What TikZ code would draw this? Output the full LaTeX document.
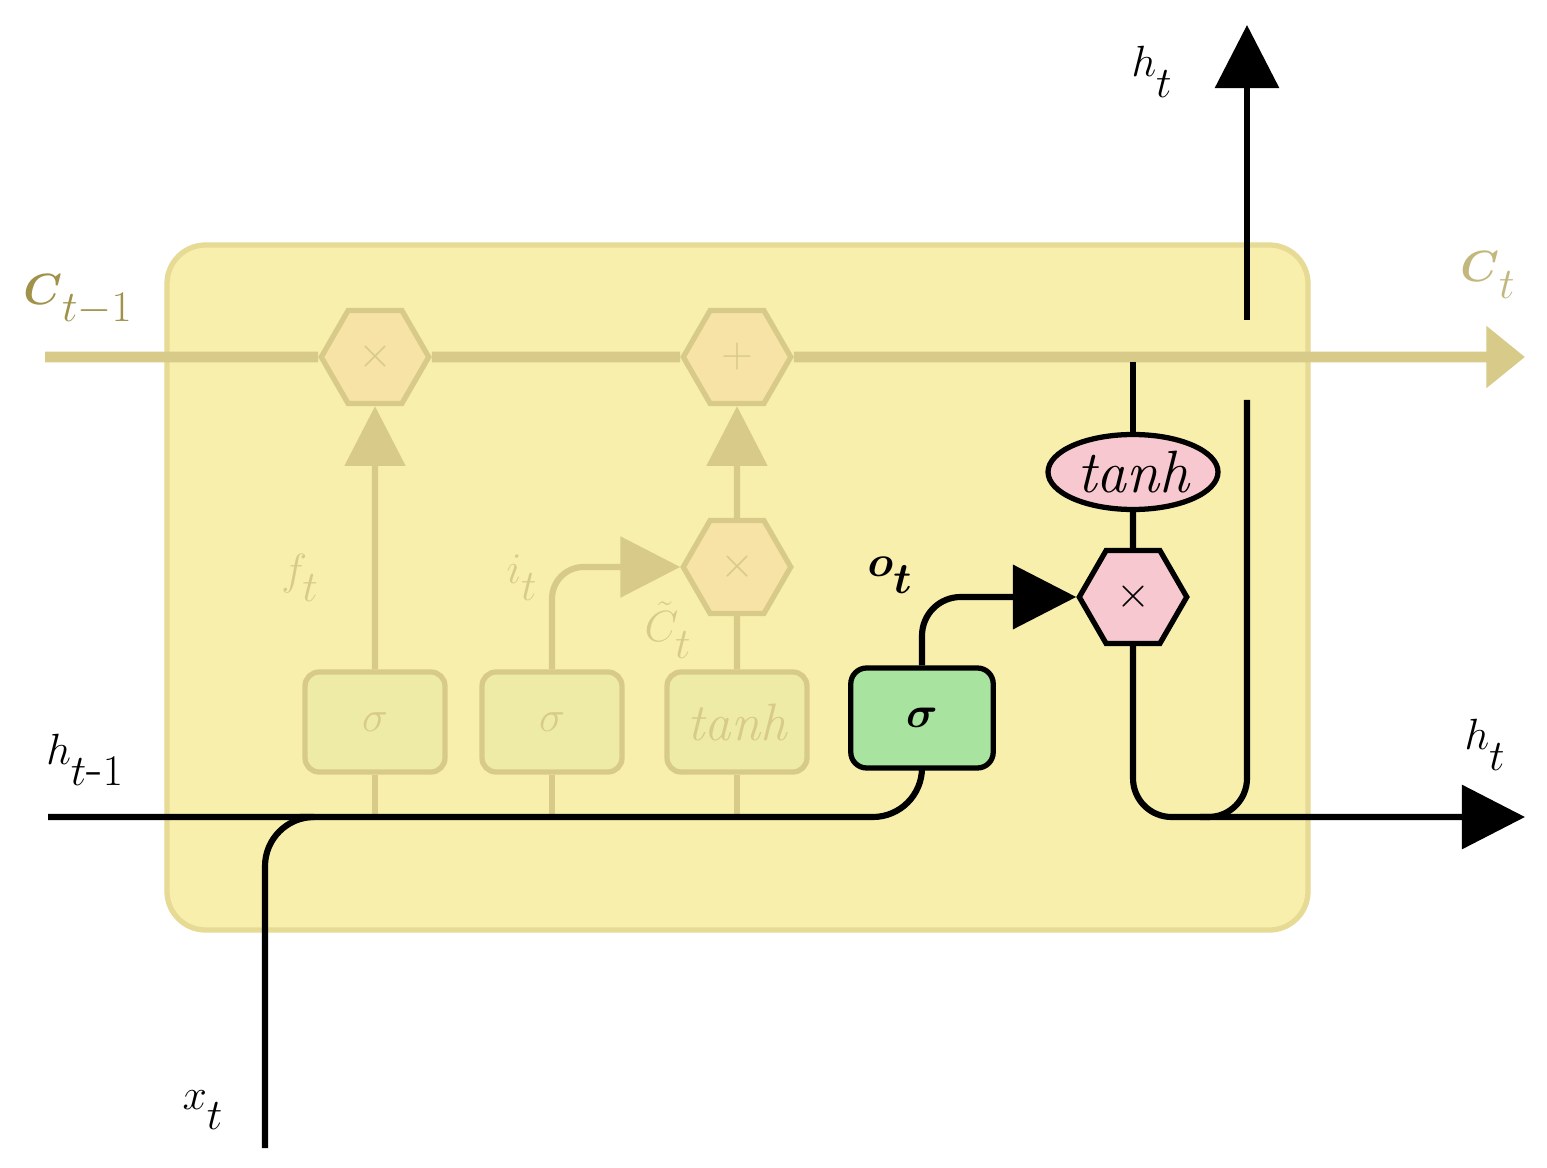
\documentclass[tikz,border=0pt]{standalone}
\usepackage{amsmath}
\usetikzlibrary{shapes.geometric,arrows.meta}
\definecolor{bg}{HTML}{F8EFAD}
\definecolor{bgb}{HTML}{E6DA95}
\definecolor{fl}{HTML}{D8CB8A}
\definecolor{fhex}{HTML}{F7E3A6}
\definecolor{fbox}{HTML}{EEEBA6}
\definecolor{olive}{HTML}{A0924A}
\definecolor{gr}{HTML}{A8E4A0}
\definecolor{pk}{HTML}{F8C8D0}
\newcommand{\bigtxt}[1]{\fontsize{44}{48}\selectfont #1}
\begin{document}
\begin{tikzpicture}[x=0.02cm,y=-0.02cm,
  faded/.style={draw=fl,line width=3.5pt},
  fhexs/.style={regular polygon,regular polygon sides=6,minimum size=2.15cm,draw=fl,fill=fhex,line width=3pt,inner sep=0pt,text=fl},
  fboxs/.style={rounded corners=8pt,minimum width=2.8cm,minimum height=2cm,draw=fl,fill=fbox,line width=3pt,text=fl},
  blk/.style={draw=black,line width=3.5pt},
  btip/.style={-{Triangle[length=36pt,width=36pt]}},
  lab/.style={inner sep=0pt}]
\useasboundingbox (0,0) rectangle (1547,1168);
\fill[white] (0,0) rectangle (1547,1168);
\draw[fill=bg,draw=bgb,line width=3pt,rounded corners=22pt] (167,245) rectangle (1308,930);
% faded part
\node[fhexs,font=\fontsize{34}{34}\selectfont] (m1) at (375,357) {$\times$};
\node[fhexs,font=\fontsize{38}{38}\selectfont] (p1) at (737,357) {$+$};
\node[fhexs,font=\fontsize{34}{34}\selectfont] (m2) at (737,567) {$\times$};
\node[fboxs,font=\fontsize{44}{44}\selectfont] (s1) at (375,722) {$\sigma$};
\node[fboxs,font=\fontsize{44}{44}\selectfont] (s2) at (552,722) {$\sigma$};
\node[fboxs,font=\fontsize{30}{30}\selectfont\itshape] (th1) at (737,722) {tanh};
\coordinate (cin) at (45,357);
\coordinate (cout) at (1525,357);
\draw[faded,line width=6pt] (cin) -- (m1) -- (p1);
\draw[faded,line width=6pt,-{Triangle[length=22pt,width=34pt]}] (p1) -- (cout);
\coordinate (b1) at (375,817); \coordinate (b2) at (552,817); \coordinate (b3) at (737,817);
\draw[faded] (b1) -- (s1.south); \draw[faded] (b2) -- (s2.south); \draw[faded] (b3) -- (th1.south);
\draw[faded,-{Triangle[length=34pt,width=34pt]}] (s1.north) -- (m1.south);
\draw[faded] (th1.north) -- (m2.south);
\draw[faded,-{Triangle[length=34pt,width=34pt]}] (m2.north) -- (p1.south);
\draw[faded,rounded corners=18pt,-{Triangle[length=34pt,width=34pt]}] (s2.north) |- (m2.west);
\node[lab,text=fl] (ft) at (300,578) {\bigtxt{$f_{\raisebox{-6pt}{$\scriptstyle t$}}$}};
\node[lab,text=fl] (it) at (522,578) {\bigtxt{$i_{\raisebox{-6pt}{$\scriptstyle t$}}$}};
\node[lab,text=fl] (ct) at (668,630) {\bigtxt{$\tilde{C}_{\raisebox{-6pt}{$\scriptstyle t$}}$}};
\node[lab,text=olive] (cm1) at (78,300) {\bigtxt{$\boldsymbol{C}_{\raisebox{-6pt}{$\scriptstyle t-1$}}$}};
\node[lab,text=fl!90!black] (ctl) at (1488,275) {\bigtxt{$\boldsymbol{C}_{\raisebox{-6pt}{$\scriptstyle t$}}$}};
% active part
\node[rounded corners=9pt,minimum width=2.85cm,minimum height=2cm,draw=black,fill=gr,line width=3pt,font=\fontsize{48}{48}\selectfont] (so) at (922,718) {$\boldsymbol\sigma$};
\node[regular polygon,regular polygon sides=6,minimum size=2.15cm,draw=black,fill=pk,line width=3pt,inner sep=0pt,font=\fontsize{40}{40}\selectfont] (mo) at (1133,597) {$\times$};
\node[ellipse,draw=black,fill=pk,line width=3pt,minimum width=3.4cm,minimum height=1.5cm,inner sep=0pt,font=\fontsize{34}{34}\selectfont\itshape] (tho) at (1133,472) {tanh};
\coordinate (ctap) at (1133,362);
\draw[blk] (ctap) -- (tho.north);
\draw[blk] (tho.south) -- (mo.north);
\coordinate (hin) at (48,817);
\coordinate (xin) at (265,1148);
\coordinate (hj) at (300,817);
\draw[blk,rounded corners=28pt] (hin) -- (922,817) -- (so.south);
\draw[blk,rounded corners=28pt] (xin) -- (265,817) -- (hj);
\draw[blk,rounded corners=22pt,btip] (so.north) |- (mo.west);
\coordinate (hout) at (1525,817);
\coordinate (hup) at (1247,25);
\coordinate (vb) at (1247,400);
\coordinate (vt) at (1247,320);
\coordinate (hk) at (1200,817);
\draw[blk,rounded corners=22pt,btip] (mo.south) |- (hout);
\draw[blk,rounded corners=22pt] (hk) -| (vb);
\draw[blk,btip] (vt) -- (hup);
\node[lab] (o) at (890,575) {\bigtxt{$\boldsymbol{o}_{\raisebox{-6pt}{$\scriptstyle\boldsymbol t$}}$}};
\node[lab] (hm1) at (85,760) {\bigtxt{$h_{\raisebox{-8pt}{$\scriptstyle t\text{-}1$}}$}};
\node[lab] (ht1) at (1152,72) {\bigtxt{$h_{\raisebox{-8pt}{$\scriptstyle t$}}$}};
\node[lab] (ht2) at (1485,745) {\bigtxt{$h_{\raisebox{-8pt}{$\scriptstyle t$}}$}};
\node[lab] (xt) at (203,1110) {\bigtxt{$x_{\raisebox{-8pt}{$\scriptstyle t$}}$}};
\end{tikzpicture}
\end{document}
